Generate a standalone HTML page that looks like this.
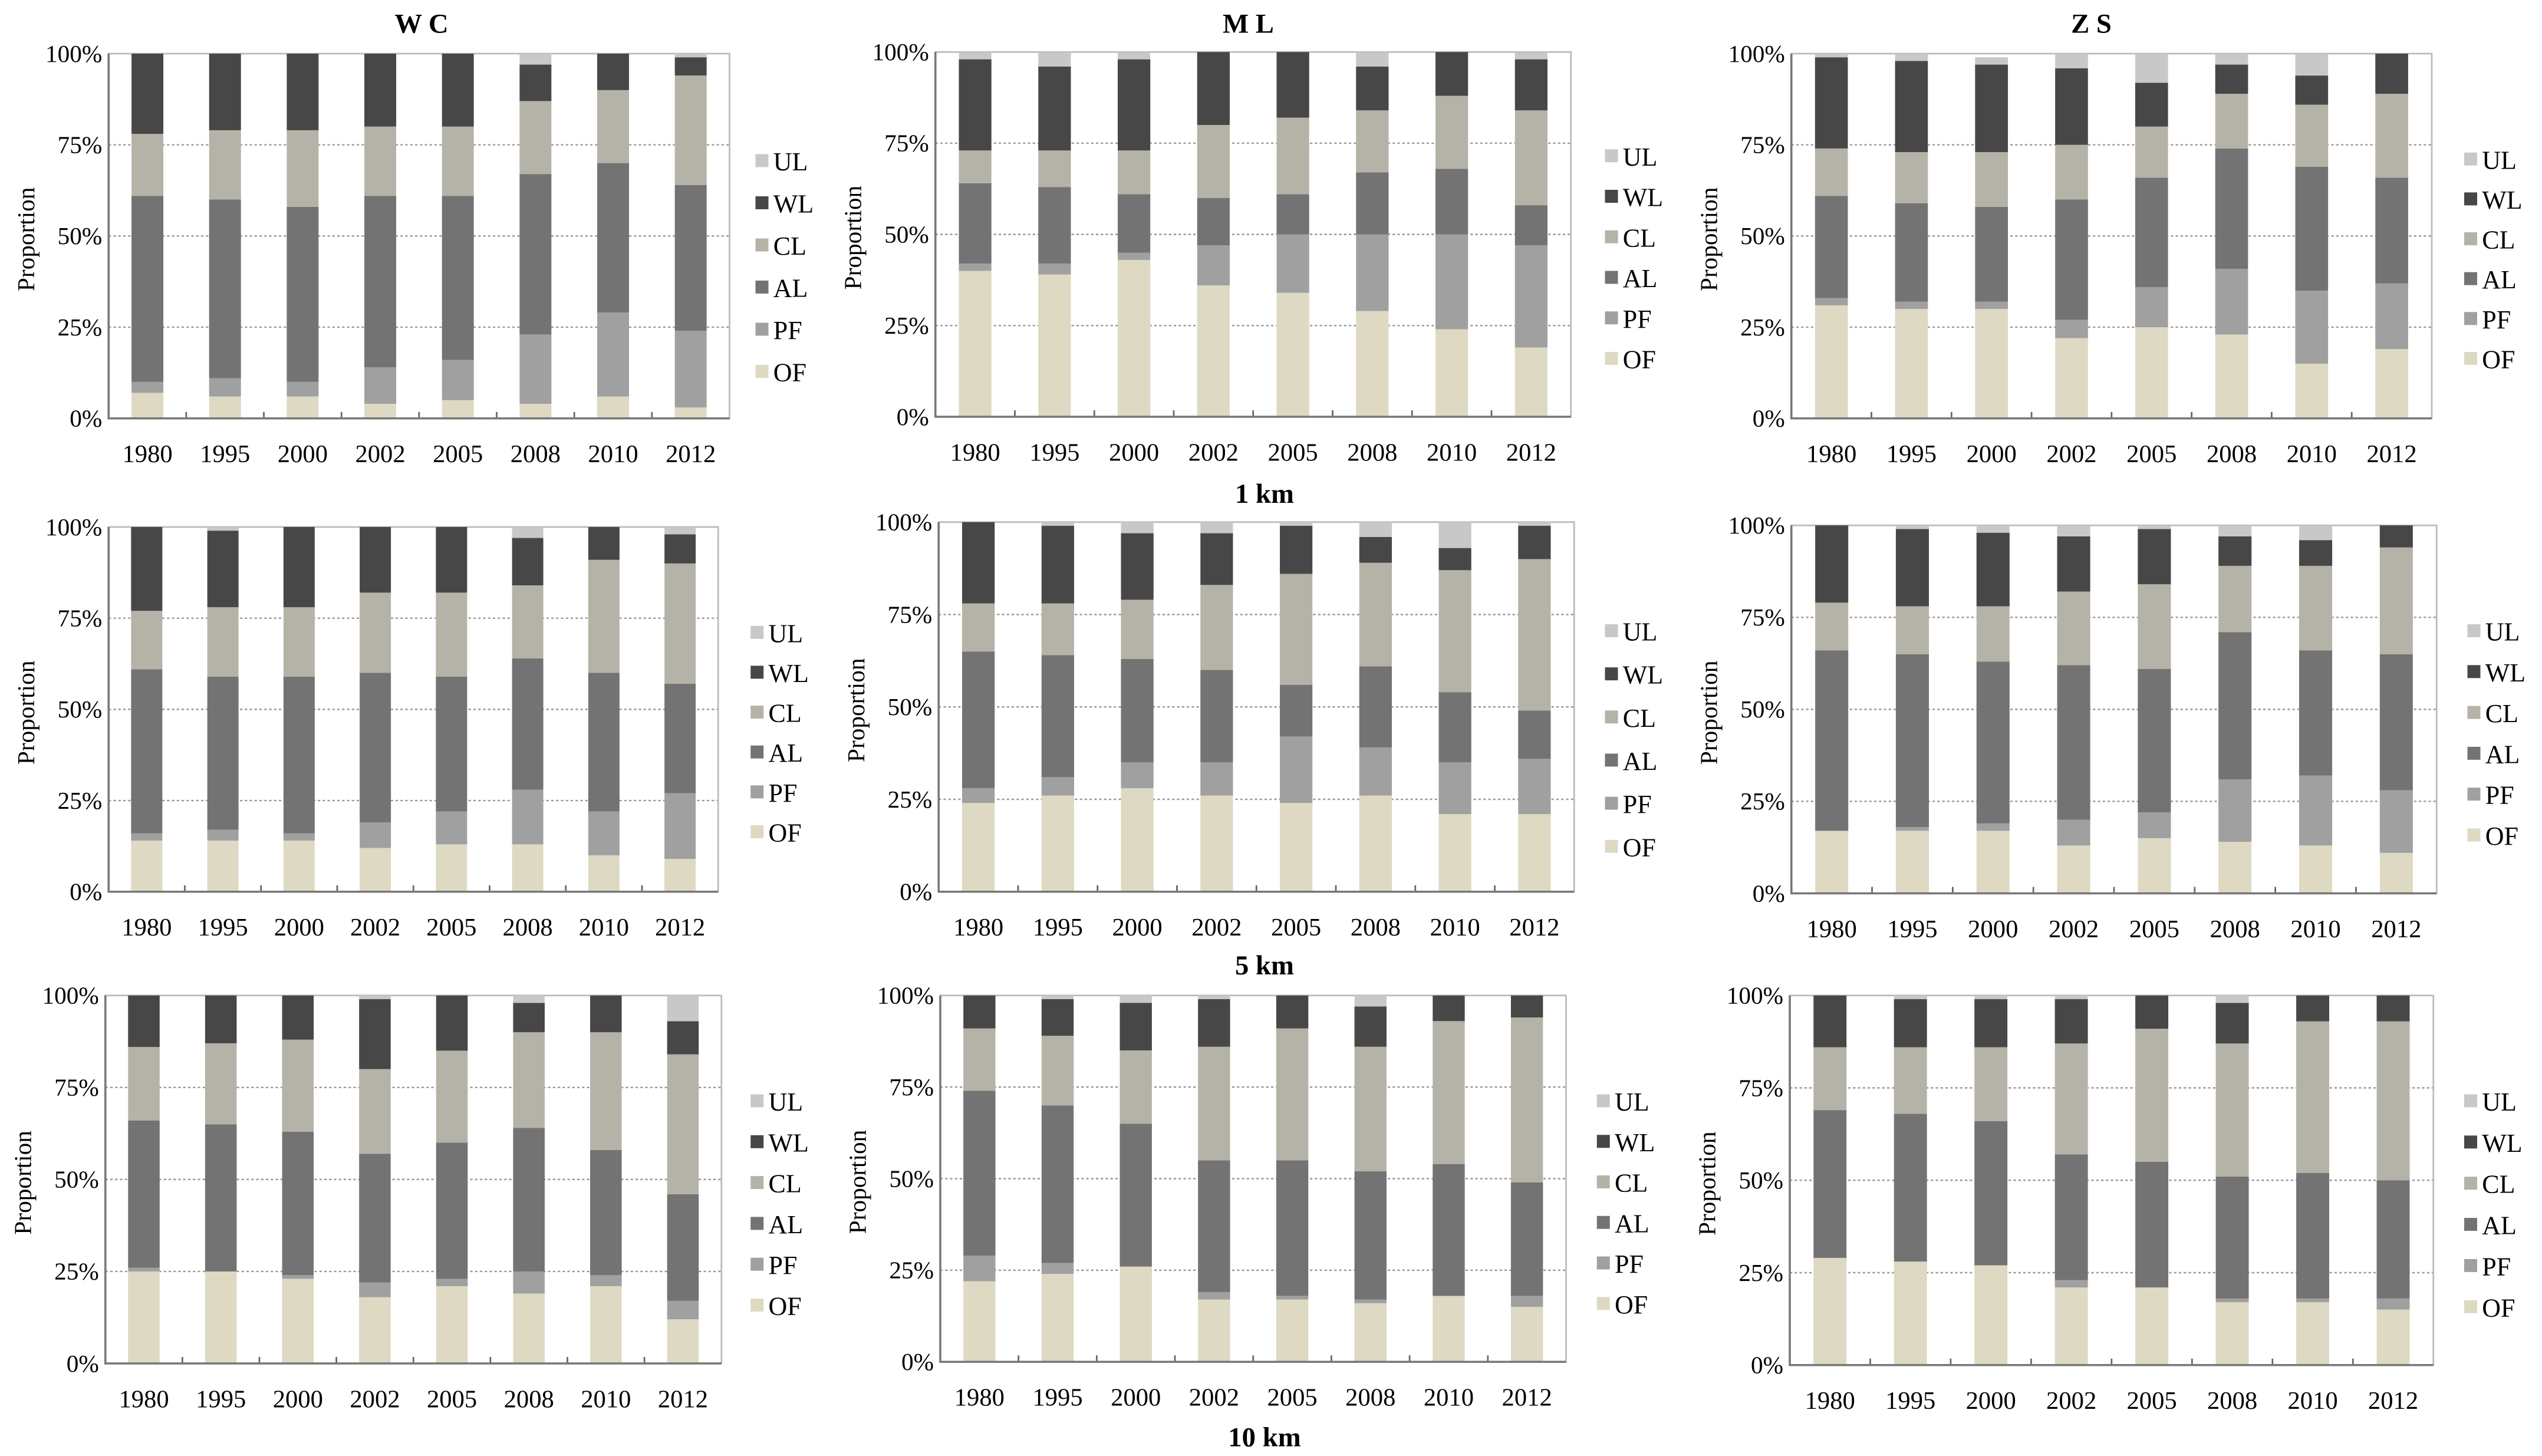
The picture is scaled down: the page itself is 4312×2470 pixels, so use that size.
<!DOCTYPE html>
<html><head><meta charset="utf-8"><style>
html,body{margin:0;padding:0;background:#fff}
svg{display:block;font-family:"Liberation Serif",serif}
text{font-family:"Liberation Serif",serif}
</style></head><body>
<svg id="fig" width="4312" height="2470" viewBox="0 0 1568 898" xmlns="http://www.w3.org/2000/svg" font-family="Liberation Serif, serif">
<text x="260" y="20" font-size="17" font-weight="bold" text-anchor="middle" font-family="Liberation Serif, serif">W C</text>
<text x="770" y="20" font-size="17" font-weight="bold" text-anchor="middle" font-family="Liberation Serif, serif">M L</text>
<text x="1290" y="20" font-size="17" font-weight="bold" text-anchor="middle" font-family="Liberation Serif, serif">Z S</text>
<text x="780" y="310" font-size="17" font-weight="bold" text-anchor="middle" font-family="Liberation Serif, serif">1 km</text>
<text x="780" y="601" font-size="17" font-weight="bold" text-anchor="middle" font-family="Liberation Serif, serif">5 km</text>
<text x="780" y="892" font-size="17" font-weight="bold" text-anchor="middle" font-family="Liberation Serif, serif">10 km</text>
</svg>
<script>
const years = ["1980","1995","2000","2002","2005","2008","2010","2012"];
const classes = ["OF","PF","AL","CL","WL","UL"];
const yTicks = ["0%","25%","50%","75%","100%"];
// cumulative tops per bar: [OF, PF, AL, CL, WL, UL]
const wc1 = [[7,10,61,78,100,100],[6,11,60,79,100,100],[6,10,58,79,100,100],[4,14,61,80,100,100],[5,16,61,80,100,100],[4,23,67,87,97,100],[6,29,70,90,100,100],[3,24,64,94,99,100]];
const ml1 = [[40,42,64,73,98,100],[39,42,63,73,96,100],[43,45,61,73,98,100],[36,47,60,80,100,100],[34,50,61,82,100,100],[29,50,67,84,96,100],[24,50,68,88,100,100],[19,47,58,84,98,100]];
const zs1 = [[31,33,61,74,99,100],[30,32,59,73,98,100],[30,32,58,73,97,99],[22,27,60,75,96,100],[25,36,66,80,92,100],[23,41,74,89,97,100],[15,35,69,86,94,100],[19,37,66,89,100,100]];
const wc5 = [[14,16,61,77,100,100],[14,17,59,78,99,100],[14,16,59,78,100,100],[12,19,60,82,100,100],[13,22,59,82,100,100],[13,28,64,84,97,100],[10,22,60,91,100,100],[9,27,57,90,98,100]];
const ml5 = [[24,28,65,78,100,100],[26,31,64,78,99,100],[28,35,63,79,97,100],[26,35,60,83,97,100],[24,42,56,86,99,100],[26,39,61,89,96,100],[21,35,54,87,93,100],[21,36,49,90,99,100]];
const zs5 = [[17,17,66,79,100,100],[17,18,65,78,99,100],[17,19,63,78,98,100],[13,20,62,82,97,100],[15,22,61,84,99,100],[14,31,71,89,97,100],[13,32,66,89,96,100],[11,28,65,94,100,100]];
const wc10 = [[25,26,66,86,100,100],[25,25,65,87,100,100],[23,24,63,88,100,100],[18,22,57,80,99,100],[21,23,60,85,100,100],[19,25,64,90,98,100],[21,24,58,90,100,100],[12,17,46,84,93,100]];
const ml10 = [[22,29,74,91,100,100],[24,27,70,89,99,100],[26,26,65,85,98,100],[17,19,55,86,99,100],[17,18,55,91,100,100],[16,17,52,86,97,100],[18,18,54,93,100,100],[15,18,49,94,100,100]];
const zs10 = [[29,29,69,86,100,100],[28,28,68,86,99,100],[27,27,66,86,99,100],[21,23,57,87,99,100],[21,21,55,91,100,100],[17,18,51,87,98,100],[17,18,52,93,100,100],[15,18,50,93,100,100]];

const colors = {OF:"#ddd9c3",PF:"#a0a0a0",AL:"#737373",CL:"#b5b3a7",WL:"#474747",UL:"#c8c8c8"};
const panels = [
 {name:"wc-1km",data:wc1,x0:67,x1:450,y0:33,y1:258,lx:466,ly:100,ls:26},
 {name:"ml-1km",data:ml1,x0:577,x1:969,y0:32,y1:257,lx:990,ly:97,ls:25},
 {name:"zs-1km",data:zs1,x0:1105,x1:1500,y0:33,y1:258,lx:1520,ly:99,ls:24.6},
 {name:"wc-5km",data:wc5,x0:67,x1:443,y0:325,y1:550,lx:463,ly:391,ls:24.6},
 {name:"ml-5km",data:ml5,x0:579,x1:971,y0:322,y1:550,lx:990,ly:390,ls:26.6},
 {name:"zs-5km",data:zs5,x0:1105,x1:1503,y0:324,y1:551,lx:1522,ly:390,ls:25.2},
 {name:"wc-10km",data:wc10,x0:65,x1:445,y0:614,y1:841,lx:463,ly:680,ls:25.2},
 {name:"ml-10km",data:ml10,x0:580,x1:966,y0:614,y1:840,lx:985,ly:680,ls:25},
 {name:"zs-10km",data:zs10,x0:1104,x1:1501,y0:614,y1:842,lx:1520,ly:680,ls:25.4}
];
const NS="http://www.w3.org/2000/svg";
const FF="Liberation Serif, serif";
const svg=document.getElementById("fig");
function mk(tag,attrs,parent){const e=document.createElementNS(NS,tag);for(const k in attrs)e.setAttribute(k,attrs[k]);(parent||svg).appendChild(e);return e;}
panels.forEach(p=>{
  const g=mk("g",{});
  
  
  const yS=v=>p.y1-(v/100)*(p.y1-p.y0);
  const step=(p.x1-p.x0)/years.length;
  const xC=i=>p.x0+step*(i+0.5);
  const bw=step*0.41;
  [25,50,75].forEach(v=>{
    const l=mk("line",{x1:p.x0,x2:p.x1,y1:yS(v),y2:yS(v),stroke:"#999","stroke-width":0.9,"stroke-dasharray":"1.5,1.5"},g);
    
    
  });
  const fr=mk("rect",{x:p.x0,y:p.y0,width:p.x1-p.x0,height:p.y1-p.y0,fill:"none",stroke:"#bbb","stroke-width":1},g);
  
  
  p.data.forEach((cum,i)=>{
    let prev=0;
    classes.forEach((c,k)=>{
      const top=cum[k];
      if(top>prev){
        const r=mk("rect",{x:xC(i)-bw/2,y:yS(top),width:bw,height:yS(prev)-yS(top),fill:colors[c]},g);
        
        
      }
      prev=Math.max(prev,top);
    });
    const t=mk("text",{x:xC(i),y:p.y1+27,"font-size":15.5,"text-anchor":"middle","font-family":FF},g);
    t.textContent=years[i];
    
    
    if(i>0){
      const tk=mk("line",{x1:p.x0+step*i,x2:p.x0+step*i,y1:p.y1,y2:p.y1-4,stroke:"#666","stroke-width":1},g);
      
      
    }
  });
  const ax=mk("path",{d:`M${p.x0},${p.y0} V${p.y1} H${p.x1}`,fill:"none",stroke:"#777","stroke-width":1.3},g);
  
  
  yTicks.forEach((lab,k)=>{
    const t=mk("text",{x:p.x0-4,y:yS(k*25)+5,"font-size":15,"text-anchor":"end","font-family":FF},g);
    t.textContent=lab;
    
    
  });
  const cy=(p.y0+p.y1)/2+2;
  const yt=mk("text",{x:0,y:0,"font-size":15,"text-anchor":"middle","font-family":FF,transform:`translate(${p.x0-46},${cy}) rotate(-90)`},g);
  yt.textContent="Proportion";
  
  
  const order=["UL","WL","CL","AL","PF","OF"];
  order.forEach((c,k)=>{
    const y=p.ly+k*p.ls;
    const sw=mk("rect",{x:p.lx,y:y-5,width:8,height:8,fill:colors[c]},g);
    
    
    const t=mk("text",{x:p.lx+11,y:y+5,"font-size":16,"font-family":FF},g);
    t.textContent=c;
    
    
  });
});
</script>
</body></html>
